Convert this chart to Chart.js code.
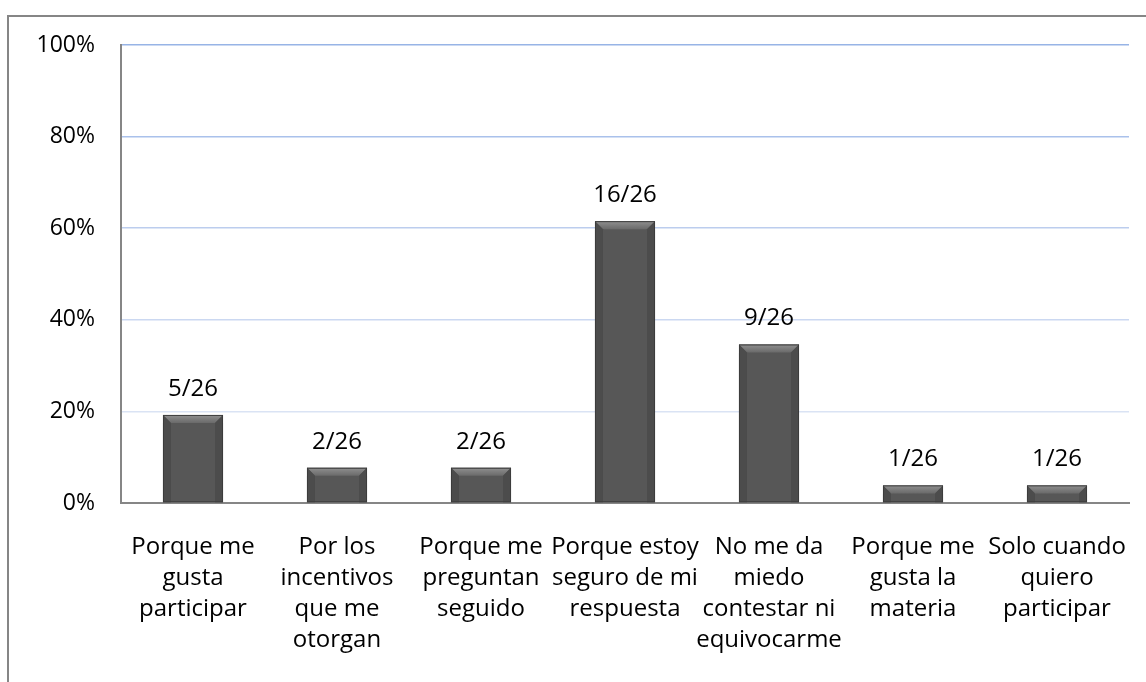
<!DOCTYPE html>
<html>
<head>
<meta charset="utf-8">
<script src="https://cdn.jsdelivr.net/npm/chart.js@4.4.1/dist/chart.umd.min.js"></script>
<style>
  html, body { margin: 0; padding: 0; background: #fff; }
  #wrap { position: relative; width: 1146px; height: 682px; overflow: hidden; }
  #frame { position: absolute; left: 7px; top: 15px; width: 1200px; height: 700px;
           border-left: 2px solid #868686; border-top: 2px solid #868686; }
  canvas { position: absolute; left: 0; top: 0; }
</style>
</head>
<body>
<div id="wrap">
  <div id="frame"></div>
  <canvas id="chart" width="1146" height="682"></canvas>
</div>
<script>
const categories = [
  ['Porque me', 'gusta', 'participar'],
  ['Por los', 'incentivos', 'que me', 'otorgan'],
  ['Porque me', 'preguntan', 'seguido'],
  ['Porque estoy', 'seguro de mi', 'respuesta'],
  ['No me da', 'miedo', 'contestar ni', 'equivocarme'],
  ['Porque me', 'gusta la', 'materia'],
  ['Solo cuando', 'quiero', 'participar']
];
const counts = [5, 2, 2, 16, 9, 1, 1];
const total = 26;
const percents = counts.map(c => c / total * 100);
const barLabels = counts.map(c => c + '/' + total);
const yTicks = [0, 20, 40, 60, 80, 100];
const gridColors = { 20: '#dae3f4', 40: '#cbd8f1', 60: '#bccdee', 80: '#aac1eb', 100: '#97b4e6' };

const FONT = "'Open Sans', sans-serif";

// bevel shading + value labels on top of each bar
const barDecor = {
  id: 'barDecor',
  afterDatasetsDraw(chart) {
    const ctx = chart.ctx;
    const meta = chart.getDatasetMeta(0);
    meta.data.forEach((bar, i) => {
      const p = bar.getProps(['x', 'y', 'base', 'width'], true);
      const l = p.x - p.width / 2, r = p.x + p.width / 2;
      const t = p.y, b = p.base;
      const h = b - t;
      const bv = Math.min(8, h / 2);
      ctx.save();
      // top bevel
      const g = ctx.createLinearGradient(0, t, 0, t + bv);
      g.addColorStop(0, '#909090');
      g.addColorStop(1, '#6a6a6a');
      ctx.fillStyle = g;
      ctx.beginPath();
      ctx.moveTo(l, t); ctx.lineTo(r, t); ctx.lineTo(r - bv, t + bv); ctx.lineTo(l + bv, t + bv);
      ctx.closePath(); ctx.fill();
      // side bevels
      ctx.fillStyle = '#4c4c4c';
      ctx.beginPath();
      ctx.moveTo(l, t); ctx.lineTo(l + bv, t + bv); ctx.lineTo(l + bv, b); ctx.lineTo(l, b);
      ctx.closePath(); ctx.fill();
      ctx.beginPath();
      ctx.moveTo(r, t); ctx.lineTo(r - bv, t + bv); ctx.lineTo(r - bv, b); ctx.lineTo(r, b);
      ctx.closePath(); ctx.fill();
      ctx.strokeStyle = '#3c3c3c';
      ctx.lineWidth = 1;
      ctx.strokeRect(l + 0.5, t + 0.5, p.width - 1, h - 1);
      // value label
      ctx.fillStyle = '#000';
      ctx.font = '24px ' + FONT;
      ctx.textAlign = 'center';
      ctx.textBaseline = 'middle';
      ctx.fillText(barLabels[i], p.x, t - 26);
      ctx.restore();
    });
  }
};

new Chart(document.getElementById('chart'), {
  type: 'bar',
  data: {
    labels: categories,
    datasets: [{
      data: percents,
      backgroundColor: '#575757',
      borderWidth: 0,
      barPercentage: 0.6,
      categoryPercentage: 0.695
    }]
  },
  options: {
    responsive: false,
    animation: false,
    layout: { padding: { left: 0, right: 17, top: 45, bottom: 0 } },
    plugins: { legend: { display: false }, tooltip: { enabled: false } },
    scales: {
      x: {
        afterFit(scale) {
          scale.height = 179;
          scale.paddingLeft = 0;
          scale.paddingRight = 0;
        },
        grid: { display: false, drawTicks: false },
        border: { display: true, color: '#868686', width: 2 },
        ticks: {
          color: '#000',
          padding: 29,
          maxRotation: 0,
          autoSkip: false,
          font: { family: FONT, size: 24, lineHeight: '31px' }
        }
      },
      y: {
        min: 0,
        max: 100,
        afterFit(scale) { scale.width = 121; },
        afterBuildTicks(scale) { scale.ticks = yTicks.map(v => ({ value: v })); },
        grid: {
          drawTicks: false,
          lineWidth: 1.5,
          color: ctx => gridColors[ctx.tick.value] || 'rgba(0,0,0,0)'
        },
        border: { display: true, color: '#868686', width: 2 },
        ticks: {
          color: '#000',
          padding: 26,
          font: { family: FONT, size: 23 },
          callback: v => v + '%'
        }
      }
    }
  },
  plugins: [barDecor]
});
</script>
</body>
</html>
